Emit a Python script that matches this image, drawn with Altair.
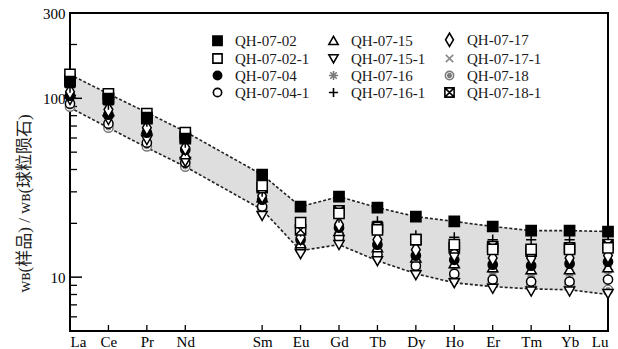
import altair as alt
import pandas as pd

# ---------------- data ----------------
elements = ["La", "Ce", "Pr", "Nd", "Sm", "Eu", "Gd", "Tb", "Dy", "Ho", "Er", "Tm", "Yb", "Lu"]
positions = [0, 1, 2, 3, 5, 6, 7, 8, 9, 10, 11, 12, 13, 14]   # slot 4 (Pm) left empty

qh_07_02   = [124, 99.6, 78.0, 59.5, 37.4, 24.8, 28.2, 24.5, 21.8, 20.5, 19.2, 18.2, 18.2, 18.0]
qh_07_02_1 = [136, 106, 82.2, 64.3, 32.5, 20.2, 22.7, 18.4, 16.2, 15.2, 14.3, 14.3, 14.3, 14.6]
qh_07_04   = [103.5, 81.1, 64.3, 51.6, 27.1, 16.2, 18.9, 15.2, 13.2, 12.5, 11.75, 11.6, 11.9, 12.2]
qh_07_04_1 = [93.4, 72.2, 56.5, 43.7, 24.8, 14.6, 16.7, 13.4, 11.6, 10.45, 9.7, 9.45, 9.45, 9.7]
qh_07_15   = [106.3, 84.3, 66.8, 48.4, 27.8, 15.4, 18.0, 14.6, 12.8, 11.9, 11.3, 11.0, 11.0, 11.3]
qh_07_15_1 = [98.3, 76.0, 58.7, 44.3, 22.1, 13.5, 15.2, 12.35, 10.3, 9.3, 8.65, 8.35, 8.35, 8.1]
qh_07_16   = [99.6, 78.0, 61.1, 47.2, 26.4, 15.0, 17.7, 14.25, 12.2, 11.5, 10.7, 10.45, 10.6, 11.0]
qh_07_16_1 = [114.8, 92.2, 74.1, 56.5, 30.1, 18.0, 21.5, 20.5, 17.1, 16.7, 16.2, 16.2, 16.2, 15.8]
qh_07_17   = [109, 86.5, 68.5, 53.0, 28.5, 16.7, 19.7, 16.2, 14.25, 13.4, 12.8, 12.8, 12.8, 13.2]
qh_07_17_1 = [97.0, 76.0, 59.5, 46.0, 25.4, 14.8, 17.1, 14.0, 11.9, 11.0, 10.2, 9.95, 10.1, 10.3]
qh_07_18   = [89.8, 68.5, 53.8, 41.5, 24.2, 14.25, 16.2, 13.0, 11.0, 9.95, 9.2, 8.85, 9.0, 8.5]
qh_07_18_1 = [127, 99.6, 77.0, 61.1, 31.7, 18.4, 23.5, 18.9, 16.2, 14.6, 14.8, 14.0, 14.6, 15.2]

upper_env = [135.8, 106, 83.3, 65.1, 37.4, 24.8, 28.2, 24.5, 21.8, 20.5, 19.2, 18.2, 18.2, 18.0]
lower_env = [88.7, 68.5, 53.0, 41.5, 23.85, 14.07, 15.2, 12.35, 10.45, 9.3, 8.85, 8.6, 8.5, 8.0]

minor_ticks = [6, 7, 8, 9, 20, 30, 40, 50, 60, 70, 80, 90, 200]
major_ticks = [10, 100]
y_labels = [10, 100, 300]

# legend order (column-wise, 3 columns x 4 rows)
legend_order = ["QH-07-02", "QH-07-02-1", "QH-07-04", "QH-07-04-1",
                "QH-07-15", "QH-07-15-1", "QH-07-16", "QH-07-16-1",
                "QH-07-17", "QH-07-17-1", "QH-07-18", "QH-07-18-1"]

samples = {
    "QH-07-02": qh_07_02, "QH-07-02-1": qh_07_02_1,
    "QH-07-04": qh_07_04, "QH-07-04-1": qh_07_04_1,
    "QH-07-15": qh_07_15, "QH-07-15-1": qh_07_15_1,
    "QH-07-16": qh_07_16, "QH-07-16-1": qh_07_16_1,
    "QH-07-17": qh_07_17, "QH-07-17-1": qh_07_17_1,
    "QH-07-18": qh_07_18, "QH-07-18-1": qh_07_18_1,
}

# marker styles
SQ = "M-1,-1H1V1H-1Z"
CI = "M0.9,0A0.9,0.9,0,1,1,-0.9,0A0.9,0.9,0,1,1,0.9,0Z"
styles = {
    "QH-07-02":   (SQ, "#000000", "#000000"),
    "QH-07-02-1": (SQ, "#ffffff", "#000000"),
    "QH-07-04":   (CI, "#000000", "#000000"),
    "QH-07-04-1": (CI, "#ffffff", "#000000"),
    "QH-07-15":   ("M0,-0.95L1,0.8L-1,0.8Z", "#ffffff", "#000000"),
    "QH-07-15-1": ("M0,0.95L1,-0.8L-1,-0.8Z", "#ffffff", "#000000"),
    "QH-07-16":   ("M-1,0H1M0,-1V1M-0.7,-0.7L0.7,0.7M-0.7,0.7L0.7,-0.7", "transparent", "#7a7a7a"),
    "QH-07-16-1": ("M-1,0H1M0,-1V1", "transparent", "#000000"),
    "QH-07-17":   ("M0,-1.45L0.85,0L0,1.45L-0.85,0Z", "#ffffff", "#000000"),
    "QH-07-17-1": ("M-0.8,-0.8L0.8,0.8M-0.8,0.8L0.8,-0.8", "transparent", "#8a8a8a"),
    "QH-07-18":   (CI + "M-0.55,0H0.55M0,-0.55V0.55M-0.4,-0.4L0.4,0.4M-0.4,0.4L0.4,-0.4", "#ffffff", "#7a7a7a"),
    "QH-07-18-1": (SQ + "M-1,-1L1,1M-1,1L1,-1", "#ffffff", "#000000"),
}

draw_order = ["QH-07-18", "QH-07-17-1", "QH-07-16", "QH-07-04-1", "QH-07-15-1", "QH-07-15",
              "QH-07-04", "QH-07-17", "QH-07-16-1", "QH-07-18-1", "QH-07-02-1", "QH-07-02"]

rows = []
for s in draw_order:
    for el, p, v in zip(elements, positions, samples[s]):
        rows.append({"sample": s, "element": el, "pos": p, "value": v})
df = pd.DataFrame(rows)

env = pd.DataFrame({"pos": positions, "upper": upper_env, "lower": lower_env})
minor_df = pd.DataFrame({"v": minor_ticks})
major_df = pd.DataFrame({"v": major_ticks})
xtick_df = pd.DataFrame({"pos": positions})

slot_names = []
for i in range(15):
    slot_names.append(elements[positions.index(i)] if i in positions else "")
label_expr = "[" + ",".join("'" + n + "'" for n in slot_names) + "][datum.value]"

W, H = 538, 318
SERIF = "Liberation Serif"

xscale = alt.Scale(domain=[0, 14], nice=False, zero=False)
yscale = alt.Scale(type="log", domain=[5, 300], nice=False)

x_axis = alt.Axis(values=positions, labelExpr=label_expr, ticks=False, tickSize=0, domain=False,
                  grid=False, title=None, labelFont=SERIF, labelFontSize=15, labelColor="black",
                  labelPadding=3)
y_axis = alt.Axis(values=y_labels, format="d", ticks=False, tickSize=0, domain=False, grid=False,
                  title="wʙ(样品) / wʙ(球粒陨石)", titleFont=SERIF + ", Noto Sans CJK SC",
                  titleFontSize=17, titleFontWeight="normal", titleColor="#222222",
                  titleX=-46, titleY=190, titleBaseline="middle", titleAngle=270,
                  labelFont=SERIF, labelFontSize=15, labelColor="black", labelPadding=5)


def X(field):
    return alt.X(field, type="quantitative", scale=xscale, axis=x_axis)


def Y(field):
    return alt.Y(field, type="quantitative", scale=yscale, axis=y_axis)


area = alt.Chart(env).mark_area(color="#dedede", opacity=1).encode(
    x=X("pos"), y=Y("lower"), y2=alt.Y2("upper"))

up_line = alt.Chart(env).mark_line(color="#222222", strokeWidth=1.6, strokeDash=[3, 2]).encode(
    x=X("pos"), y=Y("upper"))
lo_line = alt.Chart(env).mark_line(color="#222222", strokeWidth=1.6, strokeDash=[3, 2]).encode(
    x=X("pos"), y=Y("lower"))

minor = alt.Chart(minor_df).mark_rule(color="black", strokeWidth=1.3).encode(
    y=Y("v"), x=alt.value(0), x2=alt.value(7))
major = alt.Chart(major_df).mark_rule(color="black", strokeWidth=1.5).encode(
    y=Y("v"), x=alt.value(0), x2=alt.value(12))
xticks = alt.Chart(xtick_df).mark_rule(color="black", strokeWidth=1.3).encode(
    x=X("pos"), y=alt.value(H), y2=alt.value(H - 6))

legend = alt.Legend(title=None, orient="none", legendX=140, legendY=19, columns=3,
                    columnPadding=15, rowPadding=0, labelFont=SERIF, labelFontSize=15,
                    labelColor="#1a1a1a", labelOffset=10, symbolSize=85, symbolStrokeWidth=1.6,
                    padding=0, labelLimit=200)

points = alt.Chart(df).mark_point(size=105, strokeWidth=1.5, opacity=1).encode(
    x=X("pos"), y=Y("value"),
    shape=alt.Shape("sample:N", scale=alt.Scale(domain=legend_order,
                                                range=[styles[s][0] for s in legend_order]),
                    legend=legend),
    fill=alt.Fill("sample:N", scale=alt.Scale(domain=legend_order,
                                              range=[styles[s][1] for s in legend_order]),
                  legend=legend),
    stroke=alt.Stroke("sample:N", scale=alt.Scale(domain=legend_order,
                                                  range=[styles[s][2] for s in legend_order]),
                      legend=legend),
)

chart = alt.layer(area, up_line, lo_line, minor, major, xticks, points).properties(
    width=W, height=H,
    autosize=alt.AutoSizeParams(type="none"),
    padding={"left": 70, "top": 13, "right": 10, "bottom": 18},
    background="white",
).configure_view(stroke="black", strokeWidth=2)

chart.save("out.html", embed_options={"renderer": "svg", "actions": False})
